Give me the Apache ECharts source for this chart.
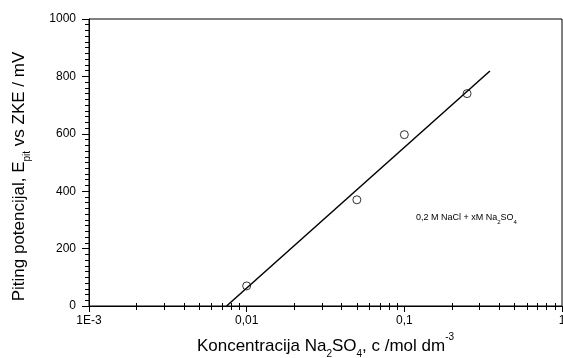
<!DOCTYPE html>
<html>
<head>
<meta charset="utf-8">
<script src="https://cdn.jsdelivr.net/npm/echarts@6/dist/echarts.min.js"></script>
<style>html,body{margin:0;padding:0;background:#fff}#c{width:563px;height:358px}</style>
</head>
<body>
<div id="c"></div>
<script>
// Data
var concentration = [0.01, 0.05, 0.1, 0.25];          // mol dm-3
var pittingPotential = [70, 370, 597, 740];           // mV vs ZKE
var fitConcentration = [0.00746, 0.349];
var fitPotential = [0, 819];

// Tick values / labels
var xMajorTicks = [0.001, 0.01, 0.1, 1];
var xTickLabels = ['1E-3', '0,01', '0,1', '1'];
var xMinorTicks = [];
[0.001, 0.01, 0.1].forEach(function (d) {
  for (var m = 2; m <= 9; m++) xMinorTicks.push(+(m * d).toPrecision(3));
});
// minor tick positions on a helper linear axis spanning the same decades (log10 space)
var xMinorTicksLog = xMinorTicks.map(function (v) { return Math.log10(v); });

var FONT = 'Liberation Sans, Arial, sans-serif';

function xLabel(v) {
  for (var i = 0; i < xMajorTicks.length; i++) if (Math.abs(Math.log10(v) - Math.log10(xMajorTicks[i])) < 1e-6) return xTickLabels[i];
  return '';
}

var baseX = {type: 'log', logBase: 10, min: 0.001, max: 1, gridIndex: 0, position: 'bottom', splitLine: {show: false}};
var helperX = {type: 'value', min: Math.log10(0.001), max: Math.log10(1), gridIndex: 0, position: 'bottom',
               splitLine: {show: false}, axisLine: {show: false, onZero: false}, axisLabel: {show: false}};
var baseY = {type: 'value', min: 0, max: 1000, interval: 200, gridIndex: 0, position: 'left', splitLine: {show: false}};

var chart = echarts.init(document.getElementById('c'), null, {renderer: 'canvas'});
chart.setOption({
  animation: false,
  grid: {left: 89, top: 19, right: 1, bottom: 52, show: true, borderColor: '#000', borderWidth: 1,
         backgroundColor: 'transparent', outerBoundsMode: 'none', containLabel: false},
  xAxis: [Object.assign({}, baseX, {
    axisLine: {show: true, onZero: false, lineStyle: {color: '#000', width: 1}},
    axisTick: {show: true, inside: false, length: 6, lineStyle: {color: '#000', width: 1}},
    minorTick: {show: false},
    axisLabel: {color: '#000', fontFamily: FONT, fontSize: 12, margin: 9, formatter: xLabel},
    name: '{n|Koncentracija Na}{sub|2}{n|SO}{sub|4}{n|, c /mol dm}{sup|-3}',
    nameLocation: 'middle', nameGap: 27,
    nameTextStyle: {
      rich: {
        n: {fontFamily: FONT, fontSize: 17, color: '#000', verticalAlign: 'middle', lineHeight: 20},
        sub: {fontFamily: FONT, fontSize: 10, color: '#000', verticalAlign: 'bottom', lineHeight: 12, padding: [0, 0, -3, 0]},
        sup: {fontFamily: FONT, fontSize: 10, color: '#000', verticalAlign: 'top', lineHeight: 12, padding: [-4, 0, 0, 0]}
      }
    }
  }), Object.assign({}, helperX, {
    axisTick: {show: true, inside: false, length: 4, lineStyle: {color: '#000', width: 1}, customValues: xMinorTicksLog}
  }), Object.assign({}, helperX, {
    axisTick: {show: true, inside: true, length: 3, lineStyle: {color: '#000', width: 1}, customValues: xMinorTicksLog}
  })],
  yAxis: [Object.assign({}, baseY, {
    axisLine: {show: true, onZero: false, lineStyle: {color: '#000', width: 1}},
    axisTick: {show: true, inside: false, length: 7, lineStyle: {color: '#000', width: 1}},
    minorTick: {show: true, splitNumber: 10, length: 4, lineStyle: {color: '#000', width: 1}},
    axisLabel: {color: '#000', fontFamily: FONT, fontSize: 12, margin: 13, formatter: function (v) { return String(v); }},
    name: '{n|Piting potencijal, E}{sub|pit}{n| vs ZKE / mV}',
    nameLocation: 'middle', nameRotate: 90, nameGap: 60,
    nameTextStyle: {
      padding: [0, 28, 0, 0],
      rich: {
        n: {fontFamily: FONT, fontSize: 17, color: '#000', verticalAlign: 'middle', lineHeight: 20},
        sub: {fontFamily: FONT, fontSize: 10, color: '#000', verticalAlign: 'bottom', lineHeight: 12, padding: [0, 0, -3, 0]}
      }
    }
  }), Object.assign({}, baseY, {
    axisLine: {show: false, onZero: false},
    axisTick: {show: false},
    minorTick: {show: true, splitNumber: 10, length: 3, lineStyle: {color: '#000', width: 1}},
    axisLabel: {show: false, inside: true}
  })],
  graphic: [{
    type: 'text', left: 416, top: 213,
    style: {
      text: '{n|0,2 M NaCl + xM Na}{s|2}{n|SO}{s|4}',
      rich: {
        n: {fontFamily: FONT, fontSize: 9, fill: '#000', verticalAlign: 'bottom', lineHeight: 12},
        s: {fontFamily: FONT, fontSize: 6, fill: '#000', verticalAlign: 'bottom', lineHeight: 9, padding: [0, 0, -3, 0]}
      }
    }
  }],
  series: [{
    type: 'line', xAxisIndex: 0, yAxisIndex: 0,
    data: fitConcentration.map(function (c, i) { return [c, fitPotential[i]]; }),
    showSymbol: false, symbol: 'none',
    lineStyle: {color: '#000', width: 1.5}
  }, {
    type: 'scatter', xAxisIndex: 0, yAxisIndex: 0,
    data: concentration.map(function (c, i) { return [c, pittingPotential[i]]; }),
    symbol: 'circle', symbolSize: 8,
    itemStyle: {color: '#fff', borderColor: '#000', borderWidth: 1}
  }]
});
</script>
</body>
</html>
